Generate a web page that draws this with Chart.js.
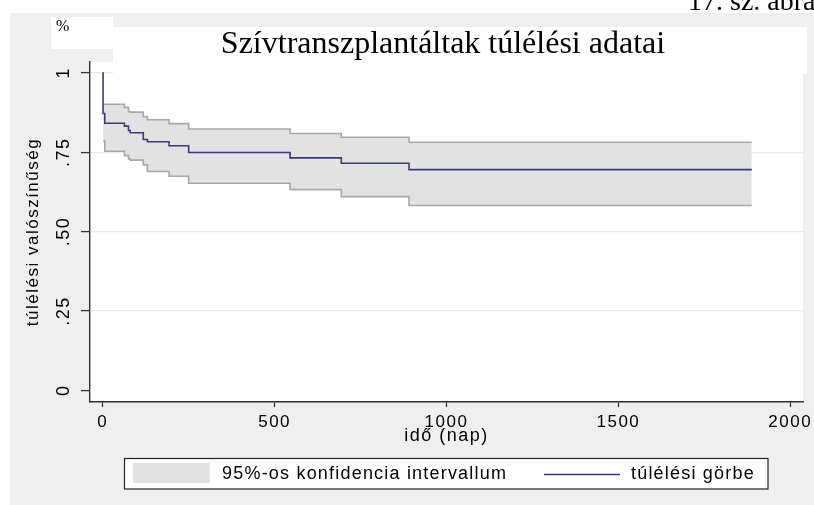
<!DOCTYPE html>
<html>
<head>
<meta charset="utf-8">
<script src="https://cdn.jsdelivr.net/npm/chart.js@4/dist/chart.umd.min.js"></script>
<style>
html,body{margin:0;padding:0;background:#fff;}
#wrap{width:814px;height:505px;}
</style>
</head>
<body>
<div id="wrap"><canvas id="c" width="814" height="505"></canvas></div>
<script>
// ---- data ----
const days      = [0, 1, 6, 63, 75, 80, 118, 130, 193, 250, 545, 694, 891, 1888];
const survival  = [1, 0.872, 0.841, 0.832, 0.818, 0.811, 0.790, 0.783, 0.770, 0.749, 0.732, 0.715, 0.695, 0.695];
const ciUpper   = [null, 0.901, 0.901, 0.891, 0.878, 0.876, 0.862, 0.852, 0.840, 0.823, 0.809, 0.797, 0.781, 0.781];
const ciLower   = [null, 0.786, 0.753, 0.739, 0.729, 0.725, 0.710, 0.689, 0.674, 0.652, 0.632, 0.610, 0.582, 0.582];
const xTickValues = [0, 500, 1000, 1500, 2000];
const xTickLabels = ['0', '500', '1000', '1500', '2000'];
const yTickValues = [0, 0.25, 0.5, 0.75, 1];
const yTickLabels = ['0', '.25', '.50', '.75', '1'];
const chartTitle = 'Szívtranszplantáltak túlélési adatai';
const figureLabel = '17. sz. ábra';
const unitLabel = '%';
const xTitle = 'idő (nap)';
const yTitle = 'túlélési valószínűség';
const bandLabel = '95%-os konfidencia intervallum';
const curveLabel = 'túlélési görbe';

const SANS = '"Liberation Sans", Arial, sans-serif';
const SERIF = '"Liberation Serif", "Times New Roman", serif';
const BAND = '#e2e2e2';
const BANDLINE = '#a8a8a8';
const NAVY = '#3b3b78';
const BG = '#efefef';

function pts(vals) {
  const out = [];
  for (let i = 0; i < days.length; i++) if (vals[i] !== null) out.push({x: days[i], y: vals[i]});
  return out;
}

const decor = {
  id: 'decor',
  beforeDraw(chart) {
    const ctx = chart.ctx;
    const a = chart.chartArea;
    ctx.save();
    ctx.fillStyle = '#ffffff';
    ctx.fillRect(0, 0, chart.width, chart.height);
    ctx.fillStyle = BG;
    ctx.fillRect(10, 13, chart.width - 10, chart.height - 13);
    ctx.fillStyle = '#ffffff';
    ctx.fillRect(a.left, a.top, a.right - a.left, a.bottom - a.top);
    ctx.fillRect(51, 17, 62, 32);
    ctx.fillStyle = '#000';
    ctx.textBaseline = 'alphabetic';
    ctx.textAlign = 'left';
    ctx.font = '28px ' + SERIF;
    ctx.fillText(figureLabel, 688, 9.5);
    ctx.font = '16px ' + SERIF;
    ctx.fillText(unitLabel, 56, 31);
    ctx.restore();
    ctx.letterSpacing = '1.5px';
  },
  beforeDatasetsDraw(chart) {
    const ctx = chart.ctx;
    ctx.save();
    ctx.letterSpacing = '0px';
    ctx.fillStyle = '#ffffff';
    ctx.fillRect(113, 27, 694, 47);
    ctx.fillStyle = '#000';
    ctx.font = '32px ' + SERIF;
    ctx.textAlign = 'center';
    ctx.textBaseline = 'alphabetic';
    ctx.fillText(chartTitle, 443, 53);
    ctx.restore();
  },
  afterDraw(chart) {
    const ctx = chart.ctx;
    ctx.save();
    ctx.letterSpacing = '1.2px';
    ctx.fillStyle = '#ffffff';
    ctx.fillRect(124.5, 458.5, 643.5, 30.5);
    ctx.strokeStyle = '#222';
    ctx.lineWidth = 1.2;
    ctx.strokeRect(124.5, 458.5, 643.5, 30.5);
    ctx.fillStyle = BAND;
    ctx.fillRect(133, 463, 77, 20);
    ctx.fillStyle = '#000';
    ctx.font = '18px ' + SANS;
    ctx.textAlign = 'left';
    ctx.textBaseline = 'middle';
    ctx.fillText(chart.data.datasets[2].label, 222, 474);
    ctx.strokeStyle = NAVY;
    ctx.lineWidth = 1.5;
    ctx.beginPath();
    ctx.moveTo(544, 474.5);
    ctx.lineTo(620, 474.5);
    ctx.stroke();
    ctx.fillText(chart.data.datasets[0].label, 631, 474);
    ctx.restore();
  }
};

new Chart(document.getElementById('c'), {
  type: 'line',
  data: {
    datasets: [
      {label: curveLabel, data: pts(survival), stepped: true, borderColor: NAVY, borderWidth: 1.6,
       pointRadius: 0, fill: false, order: 0},
      {label: 'lower', data: pts(ciLower), stepped: true, borderColor: BANDLINE, borderWidth: 1.6,
       pointRadius: 0, fill: false, order: 1},
      {label: bandLabel, data: pts(ciUpper), stepped: true, borderColor: BANDLINE, borderWidth: 1.6,
       pointRadius: 0, fill: 1, backgroundColor: BAND, order: 2}
    ]
  },
  options: {
    responsive: false,
    animation: false,
    events: [],
    layout: {padding: {left: 10, top: 62, right: 11, bottom: 0}},
    plugins: {legend: {display: false}, title: {display: false}, tooltip: {enabled: false},
              filler: {propagate: false}},
    scales: {
      x: {
        type: 'linear', min: -37, max: 2037,
        afterBuildTicks: s => { s.ticks = xTickValues.map(v => ({value: v})); },
        afterFit: s => { s.height = 103; s.paddingLeft = 0; s.paddingRight = 0; },
        ticks: {callback: (v) => xTickLabels[xTickValues.indexOf(v)], color: '#000',
                font: {family: SANS, size: 17}, padding: 5, maxRotation: 0, autoSkip: false},
        grid: {drawOnChartArea: false, drawTicks: true, tickLength: 5, tickColor: '#333', tickWidth: 1.3},
        border: {display: true, color: '#333', width: 1.4},
        title: {display: true, text: xTitle, color: '#000', font: {family: SANS, size: 18},
                padding: {top: 58, bottom: 58}}
      },
      y: {
        type: 'linear', min: -0.037, max: 1.034,
        afterBuildTicks: s => { s.ticks = yTickValues.map(v => ({value: v})); },
        afterFit: s => { s.width = 80; s.paddingTop = 0; s.paddingBottom = 0; },
        ticks: {callback: (v) => yTickLabels[yTickValues.indexOf(v)], color: '#000',
                font: {family: SANS, size: 18}, padding: 4, minRotation: 90, maxRotation: 90,
                crossAlign: 'center', autoSkip: false},
        grid: {drawOnChartArea: true, drawTicks: true, tickLength: 9,
               color: c => (c.tick && c.tick.value === 0) ? 'rgba(0,0,0,0)' : '#e9e9e9',
               lineWidth: 1.2, tickColor: '#333', tickWidth: 1.3},
        border: {display: true, color: '#333', width: 1.4},
        title: {display: true, text: yTitle, color: '#000', font: {family: SANS, size: 17},
                padding: {top: 13, bottom: 0}}
      }
    }
  },
  plugins: [decor]
});
</script>
</body>
</html>
